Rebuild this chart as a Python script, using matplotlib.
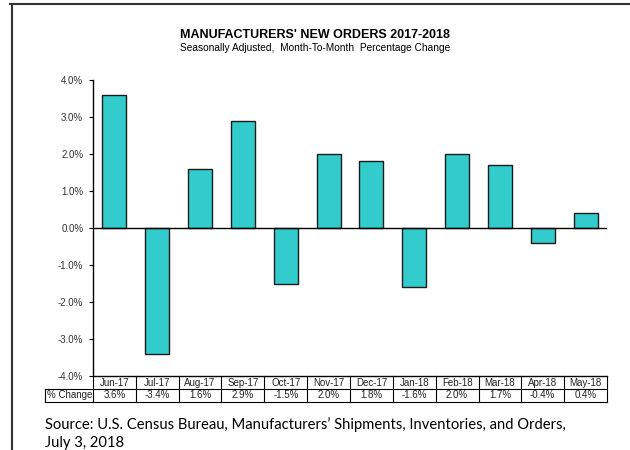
import matplotlib.pyplot as plt
from matplotlib.lines import Line2D
from matplotlib.ticker import FuncFormatter

months = ["Jun-17", "Jul-17", "Aug-17", "Sep-17", "Oct-17", "Nov-17",
          "Dec-17", "Jan-18", "Feb-18", "Mar-18", "Apr-18", "May-18"]
pct_change = [3.6, -3.4, 1.6, 2.9, -1.5, 2.0, 1.8, -1.6, 2.0, 1.7, -0.4, 0.4]
row_label = "% Change"
yticks = [-4, -3, -2, -1, 0, 1, 2, 3, 4]

plt.rcParams["font.family"] = ["Liberation Sans", "DejaVu Sans"]

fig = plt.figure(figsize=(6.3, 4.5), dpi=100)
ax = fig.add_axes([93 / 630, 74 / 450, 514 / 630, 296 / 450])

n = len(months)
x = list(range(n))
ax.bar(x, pct_change, width=0.56, color="#33CCCC", edgecolor="#1a1a1a",
       linewidth=1.0, zorder=2)
ax.axhline(0, color="black", linewidth=1.0, zorder=3)

ax.set_xlim(-0.5, n - 0.5)
ax.set_ylim(-4, 4)
ax.set_yticks(yticks)
ax.yaxis.set_major_formatter(FuncFormatter(lambda v, p: f"{v:.1f}%"))
ax.tick_params(axis="y", labelsize=7, labelcolor="#333333", length=3,
               width=0.8, pad=4)
ax.set_xticks([])
for s in ["top", "right"]:
    ax.spines[s].set_visible(False)
ax.spines["left"].set_linewidth(1.0)
ax.spines["bottom"].set_linewidth(1.0)

# data table drawn under the axis (x in data units, y in axes units)
tr = ax.get_xaxis_transform()
row_h = 13 / 296
label_w = 48 / (514 / n)
left_lbl = -0.5 - label_w
kw = dict(transform=tr, color="black", linewidth=0.8, clip_on=False)
ax.add_line(Line2D([-0.5, n - 0.5], [-row_h, -row_h], **kw))
ax.add_line(Line2D([left_lbl, n - 0.5], [-2 * row_h, -2 * row_h], **kw))
ax.add_line(Line2D([left_lbl, -0.5], [-row_h, -row_h], **kw))
ax.add_line(Line2D([left_lbl, left_lbl], [-2 * row_h, -row_h], **kw))
for i in range(n + 1):
    ax.add_line(Line2D([i - 0.5, i - 0.5], [-2 * row_h, 0], **kw))
for i, (m, v) in enumerate(zip(months, pct_change)):
    ax.text(i, -0.5 * row_h, m, transform=tr, ha="center", va="center",
            fontsize=7, color="#222222")
    ax.text(i, -1.5 * row_h, f"{v:.1f}%", transform=tr, ha="center",
            va="center", fontsize=7, color="#222222")
ax.text(left_lbl + 0.04, -1.5 * row_h, row_label, transform=tr, ha="left",
        va="center", fontsize=7, color="#222222")

fig.text(0.5, 1 - 35 / 450, "MANUFACTURERS' NEW ORDERS 2017-2018",
         ha="center", va="center", fontsize=9, fontweight="bold")
fig.text(0.5, 1 - 48 / 450, "Seasonally Adjusted,  Month-To-Month  Percentage Change",
         ha="center", va="center", fontsize=7.3)

fig.text(45 / 630, 1 - 425 / 450,
         "Source: U.S. Census Bureau, Manufacturers\u2019 Shipments, Inventories, and Orders,",
         ha="left", va="center", fontsize=10.6, family=["Lato", "DejaVu Sans"])
fig.text(45 / 630, 1 - 443 / 450, "July 3, 2018",
         ha="left", va="center", fontsize=10.6, family=["Lato", "DejaVu Sans"])

# frame lines around the chart object
fig.add_artist(Line2D([10 / 630, 1], [1 - 4 / 450, 1 - 4 / 450],
                      transform=fig.transFigure, color="#333333", linewidth=1.5))
fig.add_artist(Line2D([12 / 630, 12 / 630], [0, 1 - 4 / 450],
                      transform=fig.transFigure, color="#333333", linewidth=1.5))

fig.savefig("out.png", dpi=100)
